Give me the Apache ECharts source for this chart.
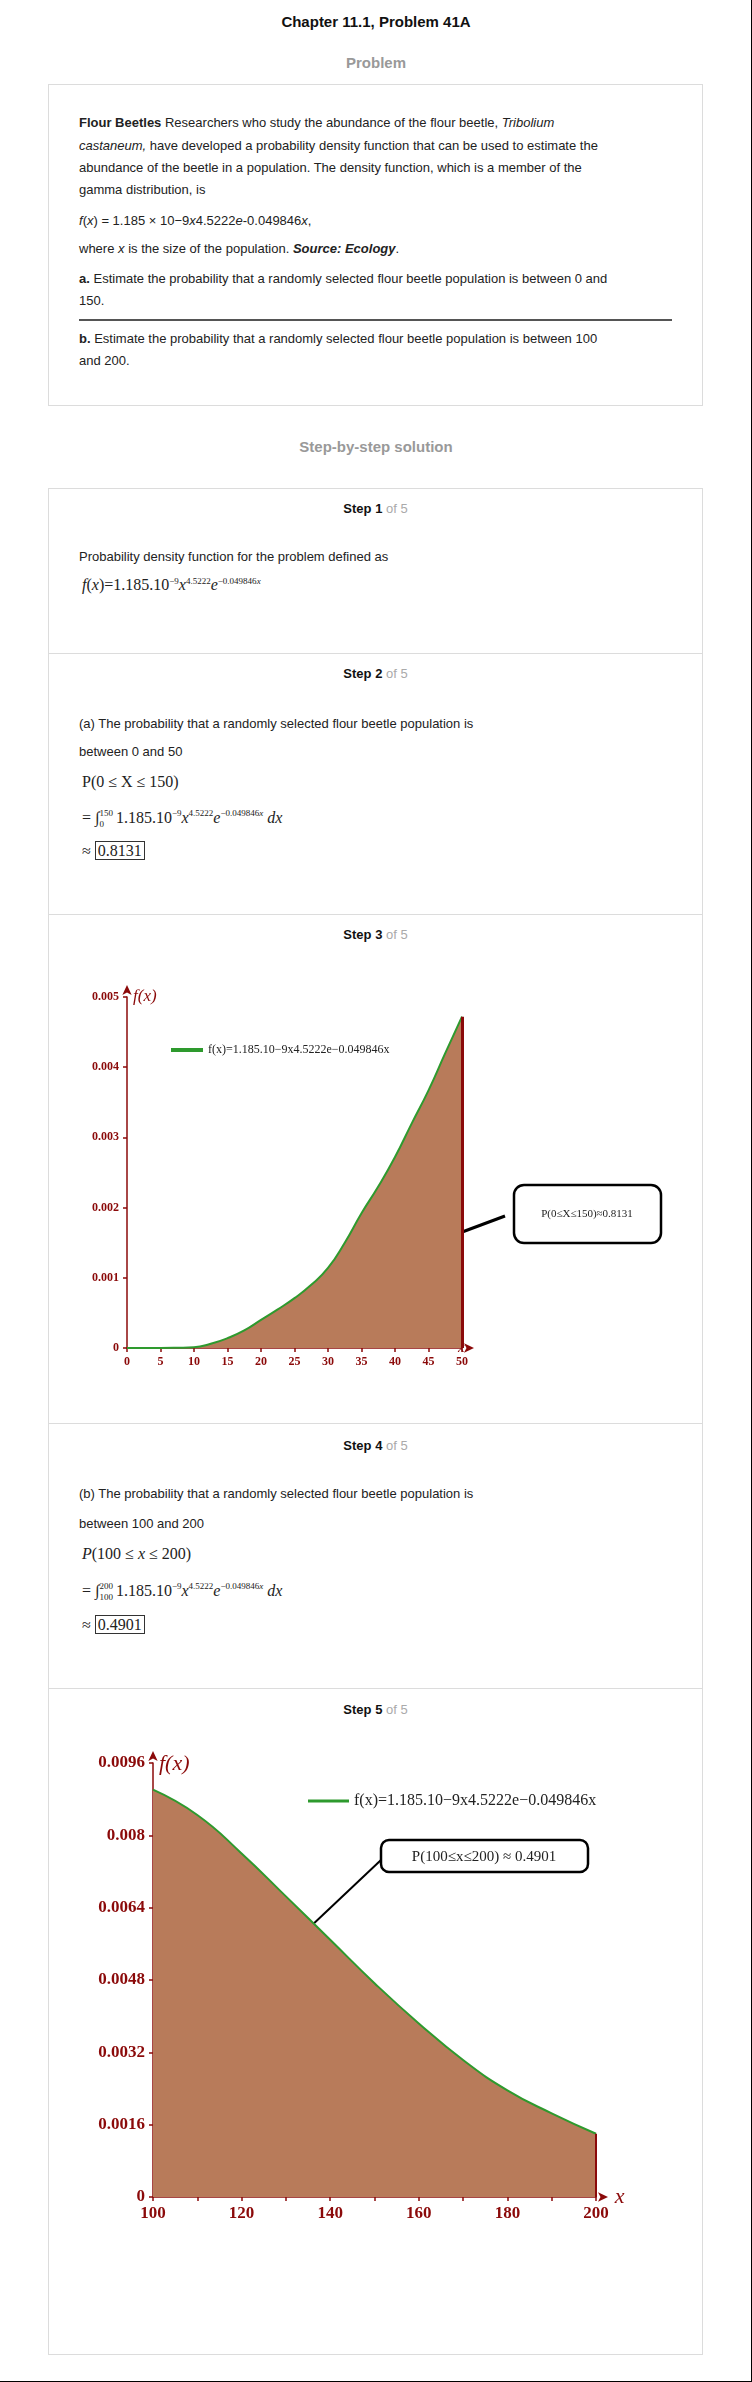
<!DOCTYPE html>
<html>
<head>
<meta charset="utf-8">
<title>Chapter 11.1, Problem 41A</title>
<script src="https://cdn.jsdelivr.net/npm/echarts@6/dist/echarts.min.js"></script>
<style>
  body, html { margin:0; padding:0; background:#fff; }
  #page { position:relative; width:752px; height:2382px; font-family:"Liberation Sans", Arial, sans-serif; font-size:13px; color:#222; }
  #edge { position:absolute; left:0; top:0; width:751px; height:2381px; border-right:1px solid #000; border-bottom:1px solid #000; }
  .abs { position:absolute; }
  .center { left:0; width:752px; text-align:center; }
  .card { position:absolute; left:48px; width:653px; border:1px solid #dcdcdc; background:#fff; }
  .hr { position:absolute; left:48px; width:655px; height:1px; background:#dcdcdc; }
  .step { position:absolute; left:48px; width:655px; text-align:center; font-weight:bold; font-size:13px; color:#111; }
  .step span { font-weight:normal; color:#aaa; }
  .t { position:absolute; left:79px; white-space:nowrap; }
  .m { position:absolute; left:82px; white-space:nowrap; font-family:"Liberation Serif","Times New Roman",serif; font-size:16px; color:#222; }
  .m sup { font-size:9px; }
  .box { border:1px solid #333; padding:0 2px; }
  .lim { display:inline-block; vertical-align:middle; font-size:9px; line-height:11px; margin-right:3px; }
  .chart { position:absolute; left:48px; width:655px; }
</style>
</head>
<body>
<div id="page">
  <div id="edge"></div>
  <div class="abs center" style="top:13px;font-weight:bold;font-size:15px;color:#111">Chapter 11.1, Problem 41A</div>
  <div class="abs center" style="top:54px;font-weight:bold;font-size:15px;color:#999">Problem</div>
  <div class="card" style="top:84px;height:320px"></div>
  <div class="t" style="top:115px"><b>Flour Beetles</b> Researchers who study the abundance of the flour beetle, <i>Tribolium</i></div>
  <div class="t" style="top:138px"><i>castaneum,</i> have developed a probability density function that can be used to estimate the</div>
  <div class="t" style="top:160px">abundance of the beetle in a population. The density function, which is a member of the</div>
  <div class="t" style="top:182px">gamma distribution, is</div>
  <div class="t" style="top:213px"><i>f</i>(<i>x</i>) = 1.185 × 10−9<i>x</i>4.5222<i>e</i>-0.049846<i>x</i>,</div>
  <div class="t" style="top:241px">where <i>x</i> is the size of the population. <b><i>Source: Ecology</i></b>.</div>
  <div class="t" style="top:271px"><b>a.</b> Estimate the probability that a randomly selected flour beetle population is between 0 and</div>
  <div class="t" style="top:293px">150.</div>
  <div class="abs" style="left:79px;top:319px;width:593px;height:2px;background:#555"></div>
  <div class="t" style="top:331px"><b>b.</b> Estimate the probability that a randomly selected flour beetle population is between 100</div>
  <div class="t" style="top:353px">and 200.</div>

  <div class="abs center" style="top:438px;font-weight:bold;font-size:15px;color:#999">Step-by-step solution</div>
  <div class="card" style="top:488px;height:1865px"></div>

  <div class="step" style="top:501px">Step 1 <span>of 5</span></div>
  <div class="t" style="top:549px">Probability density function for the problem defined as</div>
  <div class="m" style="top:576px"><i>f</i>(<i>x</i>)=1.185.10<sup>−9</sup><i>x</i><sup>4.5222</sup><i>e</i><sup>−0.049846<i>x</i></sup></div>
  <div class="hr" style="top:653px"></div>

  <div class="step" style="top:666px">Step 2 <span>of 5</span></div>
  <div class="t" style="top:716px">(a) The probability that a randomly selected flour beetle population is</div>
  <div class="t" style="top:744px">between 0 and 50</div>
  <div class="m" style="top:773px">P(0 ≤ X ≤ 150)</div>
  <div class="m" style="top:808px">= ∫<span class="lim">150<br>0</span>1.185.10<sup>−9</sup><i>x</i><sup>4.5222</sup><i>e</i><sup>−0.049846<i>x</i></sup> <i>dx</i></div>
  <div class="m" style="top:842px">≈ <span class="box">0.8131</span></div>
  <div class="hr" style="top:914px"></div>

  <div class="step" style="top:927px">Step 3 <span>of 5</span></div>
  <div id="chart1" class="chart" style="top:950px;height:430px"></div>
  <div class="hr" style="top:1423px"></div>

  <div class="step" style="top:1438px">Step 4 <span>of 5</span></div>
  <div class="t" style="top:1486px">(b) The probability that a randomly selected flour beetle population is</div>
  <div class="t" style="top:1516px">between 100 and 200</div>
  <div class="m" style="top:1545px"><i>P</i>(100 ≤ <i>x</i> ≤ 200)</div>
  <div class="m" style="top:1581px">= ∫<span class="lim">200<br>100</span>1.185.10<sup>−9</sup><i>x</i><sup>4.5222</sup><i>e</i><sup>−0.049846<i>x</i></sup> <i>dx</i></div>
  <div class="m" style="top:1616px">≈ <span class="box">0.4901</span></div>
  <div class="hr" style="top:1688px"></div>

  <div class="step" style="top:1702px">Step 5 <span>of 5</span></div>
  <div id="chart2" class="chart" style="top:1720px;height:580px"></div>
</div>
<script>
// values
var xA = [0, 2.5, 5, 7.5, 10, 12.5, 15, 17.5, 20, 22.5, 25, 27.5, 30, 32.5, 35, 37.5, 40, 42.5, 45, 47.5, 50];
var yA = [0, 0, 0, 0.000003, 0.00001, 0.00006, 0.00014, 0.00025, 0.0004, 0.00055, 0.00071, 0.0009, 0.00114, 0.0015, 0.00192, 0.0023, 0.00272, 0.0032, 0.00367, 0.0042, 0.00472];
var xB = [100, 110, 120, 130, 140, 150, 160, 170, 180, 190, 200];
var yB = [0.00901, 0.00845, 0.0076, 0.00665, 0.00569, 0.00473, 0.00384, 0.00303, 0.00236, 0.00185, 0.0014];
var legendText = 'f(x)=1.185.10−9x4.5222e−0.049846x';
var noteA = 'P(0≤X≤150)≈0.8131';
var noteB = 'P(100≤x≤200) ≈ 0.4901';

var maroon = '#8b0a0a', fill = '#b87b5a', green = '#2e9a2e';
var serif = '"Liberation Serif","Times New Roman",serif';

function pairs(xs, ys) { return xs.map(function (x, i) { return [x, ys[i]]; }); }

function legendRich(size) {
  return {
    formatter: function () { return '{i|f}(x)=1.185.10{s|−9}{i|x}{s|4.5222}{i|e}{s|−0.049846x}'; },
    rich: {
      i: { fontFamily: serif, fontStyle: 'italic', fontSize: size, color: '#222' },
      s: { fontFamily: serif, fontSize: size, color: '#222', padding: [0, 0, Math.round(size * 0.6), 0] }
    },
    fontFamily: serif, fontSize: size, color: '#222'
  };
}

function axisCommon(size) {
  return {
    axisLine: { show: true, onZero: false, lineStyle: { color: maroon, width: 1.5 }, symbol: ['none', 'arrow'], symbolSize: [7, 10], symbolOffset: [0, 12] },
    axisTick: { show: true, length: 4, lineStyle: { color: maroon, width: 1.5 } },
    axisLabel: { color: maroon, fontFamily: serif, fontWeight: 'bold', fontSize: size },
    splitLine: { show: false }
  };
}

var c1 = echarts.init(document.getElementById('chart1'));
c1.setOption({
  animation: false,
  grid: { left: 79, top: 47, width: 335, height: 351 },
  legend: Object.assign({
    left: 118, top: 89, itemWidth: 32, itemHeight: 4, itemGap: 8,
    data: [{ name: legendText, icon: 'rect', itemStyle: { color: green } }]
  }, { textStyle: legendRich(12) }),
  xAxis: Object.assign(axisCommon(12), {
    type: 'value', min: 0, max: 50, interval: 5,
    name: 'x', nameLocation: 'end', nameGap: -4,
    nameTextStyle: { fontFamily: serif, fontStyle: 'italic', fontSize: 15, color: maroon, padding: [0, 0, 22, 0] }
  }),
  yAxis: Object.assign(axisCommon(12), {
    type: 'value', min: 0, max: 0.005, interval: 0.001,
    name: 'f(x)', nameLocation: 'end', nameGap: -8,
    nameTextStyle: { fontFamily: serif, fontStyle: 'italic', fontSize: 17, color: maroon, align: 'left', padding: [0, 0, 0, 6] }
  }),
  series: [{
    name: legendText, type: 'line', smooth: true, symbol: 'none',
    data: pairs(xA, yA),
    lineStyle: { color: green, width: 2 },
    itemStyle: { color: green },
    areaStyle: { color: fill, opacity: 1 },
    markLine: {
      silent: true, symbol: 'none', label: { show: false },
      lineStyle: { color: maroon, width: 3, type: 'solid' },
      data: [[{ coord: [xA[xA.length - 1], 0] }, { coord: [xA[xA.length - 1], yA[yA.length - 1]] }]]
    }
  }],
  graphic: [
    { type: 'rect', shape: { x: 466, y: 235, width: 147, height: 58, r: 10 }, style: { fill: '#fff', stroke: '#000', lineWidth: 2.5 } },
    { type: 'text', x: 539, y: 264, style: { text: noteA, font: '11px ' + serif, fill: '#222', align: 'center', verticalAlign: 'middle' } },
    { type: 'line', shape: { x1: 457, y1: 266, x2: 358, y2: 303 }, style: { stroke: '#000', lineWidth: 3 } }
  ]
});

var c2 = echarts.init(document.getElementById('chart2'));
c2.setOption({
  animation: false,
  grid: { left: 105, top: 43, width: 443, height: 434 },
  legend: Object.assign({
    left: 255, top: 68, itemWidth: 41, itemHeight: 3, itemGap: 30,
    data: [{ name: legendText, icon: 'rect', itemStyle: { color: green } }]
  }, { textStyle: legendRich(16) }),
  xAxis: Object.assign(axisCommon(17), {
    type: 'value', min: 100, max: 200, interval: 10,
    name: 'x', nameLocation: 'end', nameGap: -6,
    nameTextStyle: { fontFamily: serif, fontStyle: 'italic', fontSize: 22, color: maroon, padding: [0, 0, 32, 0] }
  }),
  yAxis: Object.assign(axisCommon(17), {
    type: 'value', min: 0, max: 0.0096, interval: 0.0016,
    name: 'f(x)', nameLocation: 'end', nameGap: -12,
    nameTextStyle: { fontFamily: serif, fontStyle: 'italic', fontSize: 22, color: maroon, align: 'left', padding: [0, 0, 0, 6] }
  }),
  series: [{
    name: legendText, type: 'line', smooth: true, symbol: 'none',
    data: pairs(xB, yB),
    lineStyle: { color: green, width: 2 },
    itemStyle: { color: green },
    areaStyle: { color: fill, opacity: 1 },
    markLine: {
      silent: true, symbol: 'none', label: { show: false },
      lineStyle: { color: maroon, width: 2, type: 'solid' },
      data: [[{ coord: [xB[xB.length - 1], 0] }, { coord: [xB[xB.length - 1], yB[yB.length - 1]] }]]
    }
  }],
  graphic: [
    { type: 'rect', shape: { x: 333, y: 120, width: 207, height: 32, r: 8 }, style: { fill: '#fff', stroke: '#000', lineWidth: 2.5 } },
    { type: 'text', x: 436, y: 137, style: { text: noteB, font: '15px ' + serif, fill: '#222', align: 'center', verticalAlign: 'middle' } },
    { type: 'line', shape: { x1: 333, y1: 140, x2: 243, y2: 225 }, style: { stroke: '#000', lineWidth: 2 } }
  ]
});
c2.setOption({ xAxis: { axisLabel: { formatter: function (v) { return v % 20 === 0 ? String(v) : ''; } } } });
</script>
</body>
</html>
